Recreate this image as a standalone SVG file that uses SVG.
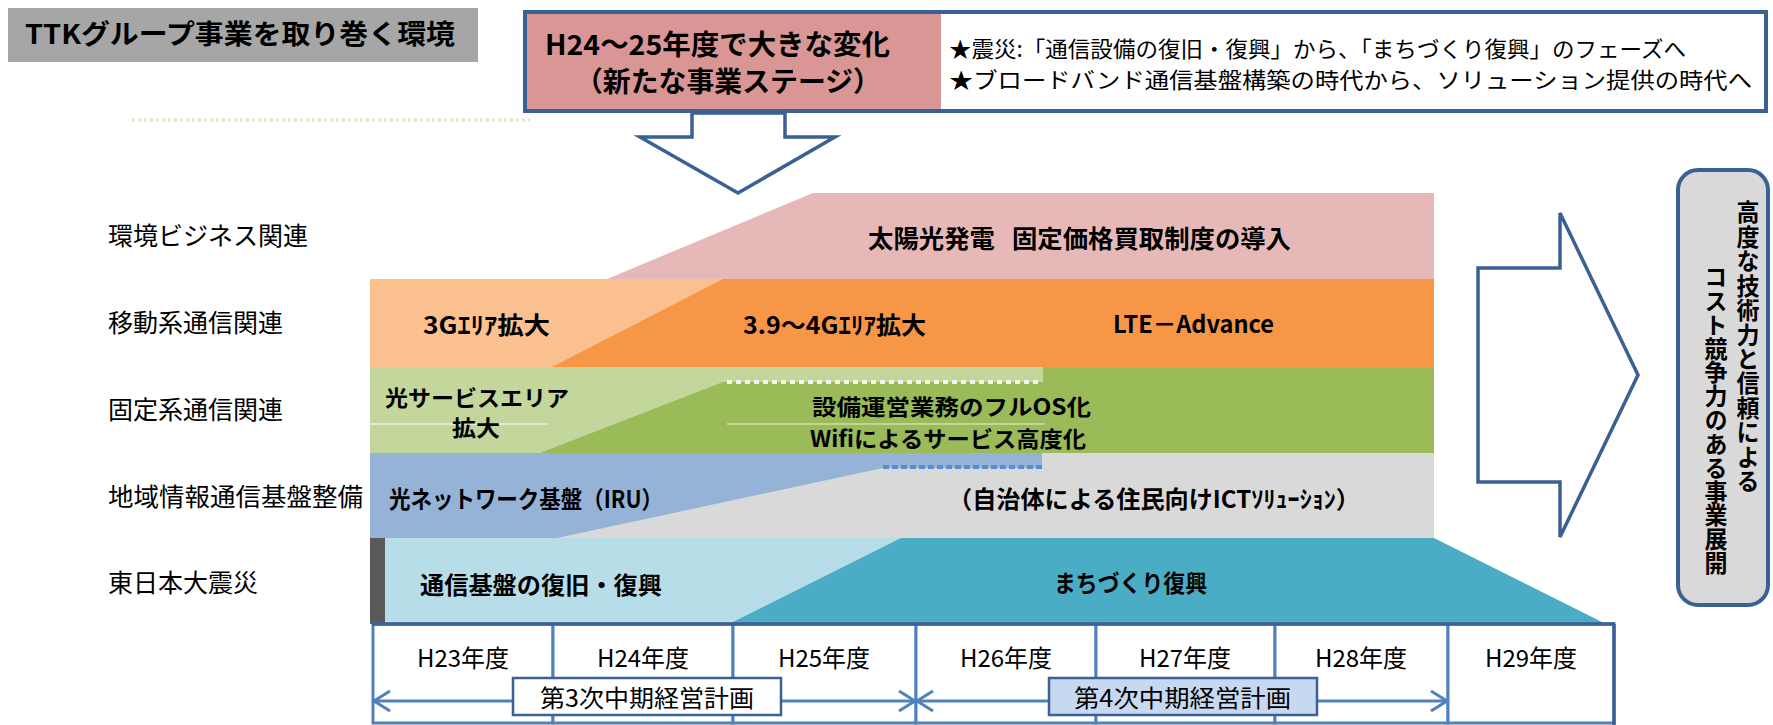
<svg xmlns="http://www.w3.org/2000/svg" width="1773" height="725" viewBox="0 0 1773 725">
<defs>
<style>
text{font-family:"Noto Sans CJK JP","Liberation Sans",sans-serif;fill:#000}
.lbl{font-size:25px}
.b{font-size:24px;font-weight:bold}
.b2{font-size:22px;font-weight:bold}
.yr{font-size:24px;text-anchor:middle}
.cell{fill:#fff;stroke:#4f81bd;stroke-width:3}
.conn{fill:#fff;stroke:#3b6093;stroke-width:3.5;stroke-linejoin:miter}
.tl{stroke:#4f81bd;stroke-width:3;fill:none}
</style>
</defs>
<rect width="1773" height="725" fill="#fff"/>

<g id="title">
<rect x="8" y="8" width="470" height="54" fill="#a6a6a6"/>
<text x="25" y="44" style="font-size:27px;font-weight:bold" textLength="430" lengthAdjust="spacingAndGlyphs">TTKグループ事業を取り巻く環境</text>
</g>
<line x1="132" y1="120" x2="530" y2="120" stroke="#e8e4cc" stroke-width="3" stroke-dasharray="3 3"/>

<g id="header">
<rect x="525" y="12" width="1241" height="99" fill="#fff" stroke="#3b6093" stroke-width="4"/>
<rect x="527" y="14" width="414" height="95" fill="#d99694"/>
<text x="545" y="55" style="font-size:28px;font-weight:bold" textLength="345" lengthAdjust="spacingAndGlyphs">H24～25年度で大きな変化</text>
<text x="575" y="92" style="font-size:28px;font-weight:bold" textLength="306" lengthAdjust="spacingAndGlyphs">（新たな事業ステージ）</text>
<text x="949" y="57" style="font-size:22px" textLength="737" lengthAdjust="spacingAndGlyphs">★震災:「通信設備の復旧・復興」から、「まちづくり復興」のフェーズへ</text>
<text x="949" y="88" style="font-size:22px" textLength="803" lengthAdjust="spacingAndGlyphs">★ブロードバンド通信基盤構築の時代から、ソリューション提供の時代へ</text>
</g>

<g id="row-labels">
<text class="lbl" x="108" y="245">環境ビジネス関連</text>
<text class="lbl" x="108" y="332">移動系通信関連</text>
<text class="lbl" x="108" y="419">固定系通信関連</text>
<text class="lbl" x="108" y="506" textLength="255" lengthAdjust="spacingAndGlyphs">地域情報通信基盤整備</text>
<text class="lbl" x="108" y="592">東日本大震災</text>
</g>

<g id="band-environment">
<polygon points="607,279 813,193 1434,193 1434,279" fill="#e6b9b8"/>
<text x="868" y="248" style="font-size:25px;font-weight:bold" textLength="127" lengthAdjust="spacingAndGlyphs">太陽光発電</text>
<text x="1012" y="248" style="font-size:25px;font-weight:bold" textLength="279" lengthAdjust="spacingAndGlyphs">固定価格買取制度の導入</text>
</g>

<g id="band-mobile">
<rect x="370" y="279" width="1064" height="88" fill="#fac090"/>
<polygon points="552,367 723,279 1434,279 1434,367" fill="#f79646"/>
<text class="b" x="423" y="334" textLength="127" lengthAdjust="spacingAndGlyphs">3Gｴﾘｱ拡大</text>
<text class="b" x="743" y="334" textLength="183" lengthAdjust="spacingAndGlyphs">3.9～4Gｴﾘｱ拡大</text>
<text class="b" x="1113" y="333" textLength="161" lengthAdjust="spacingAndGlyphs">LTE－Advance</text>
</g>

<g id="band-fixed">
<rect x="370" y="367" width="1064" height="86" fill="#c3d69b"/>
<polygon points="540,453 723,382 1043,382 1043,367 1434,367 1434,453" fill="#9bbb59"/>
<line x1="727" y1="382" x2="1040" y2="382" stroke="#f4f4f0" stroke-width="4" stroke-dasharray="5 4"/>
<line x1="370" y1="424" x2="547" y2="424" stroke="#fff" stroke-width="1"/>
<line x1="727" y1="424" x2="1045" y2="424" stroke="#e8eedc" stroke-width="1"/>
<text class="b2" x="385" y="406" textLength="184" lengthAdjust="spacingAndGlyphs">光サービスエリア</text>
<text class="b2" x="452" y="436" textLength="48" lengthAdjust="spacingAndGlyphs">拡大</text>
<text class="b2" x="812" y="415" textLength="279" lengthAdjust="spacingAndGlyphs">設備運営業務のフルOS化</text>
<text class="b2" x="810" y="447" textLength="276" lengthAdjust="spacingAndGlyphs">Wifiによるサービス高度化</text>
</g>

<g id="band-regional">
<rect x="370" y="453" width="1064" height="85" fill="#95b3d7"/>
<polygon points="557,538 883,468 1042,468 1042,453 1434,453 1434,538" fill="#d9d9d9"/>
<line x1="883" y1="467" x2="1042" y2="467" stroke="#558ed5" stroke-width="4" stroke-dasharray="6 3"/>
<text class="b" x="389" y="508" textLength="274" lengthAdjust="spacingAndGlyphs">光ネットワーク基盤（IRU）</text>
<text class="b" x="948" y="508" textLength="412" lengthAdjust="spacingAndGlyphs">（自治体による住民向けICTｿﾘｭｰｼｮﾝ）</text>
</g>

<g id="band-disaster">
<rect x="370" y="538" width="1064" height="86" fill="#b7dee8"/>
<polygon points="729,624 901,538 1434,538 1606,624" fill="#4bacc6"/>
<rect x="370" y="538" width="15" height="86" fill="#595959"/>
<text class="b" x="420" y="594" textLength="242" lengthAdjust="spacingAndGlyphs">通信基盤の復旧・復興</text>
<text class="b" x="1054" y="592" textLength="153" lengthAdjust="spacingAndGlyphs">まちづくり復興</text>
</g>

<g id="timeline">
<rect class="cell" x="373" y="624" width="180" height="99"/>
<rect class="cell" x="553" y="624" width="180" height="99"/>
<rect class="cell" x="733" y="624" width="183" height="99"/>
<rect class="cell" x="916" y="624" width="180" height="99"/>
<rect class="cell" x="1096" y="624" width="179" height="99"/>
<rect class="cell" x="1275" y="624" width="173" height="99"/>
<rect class="cell" x="1448" y="624" width="166" height="99"/>
<line x1="372" y1="624" x2="1615" y2="624" stroke="#3b6093" stroke-width="3.5"/>
<line x1="1614" y1="624" x2="1614" y2="725" stroke="#3b6093" stroke-width="3.5"/>
<text class="yr" x="463" y="667">H23年度</text>
<text class="yr" x="643" y="667">H24年度</text>
<text class="yr" x="824" y="667">H25年度</text>
<text class="yr" x="1006" y="667">H26年度</text>
<text class="yr" x="1185" y="667">H27年度</text>
<text class="yr" x="1361" y="667">H28年度</text>
<text class="yr" x="1531" y="667">H29年度</text>
</g>

<g id="connectors">
<polygon class="conn" points="692,113 692,137 640,137 738,193 835,137 785,137 785,113"/>
<polygon class="conn" points="1478,268 1560,268 1560,213 1638,375 1560,537 1560,482 1478,482"/>
<line class="tl" x1="374" y1="701" x2="914" y2="701"/>
<polyline class="tl" points="390,691 374,701 390,711"/>
<polyline class="tl" points="899,691 915,701 899,711"/>
<line class="tl" x1="918" y1="701" x2="1446" y2="701"/>
<polyline class="tl" points="933,691 917,701 933,711"/>
<polyline class="tl" points="1431,691 1447,701 1431,711"/>
</g>

<g id="plan3">
<rect x="513" y="678" width="268" height="37" fill="#fff" stroke="#3b6093" stroke-width="2.5"/>
<text x="540" y="707" style="font-size:24px" textLength="214" lengthAdjust="spacingAndGlyphs">第3次中期経営計画</text>
</g>
<g id="plan4">
<rect x="1049" y="678" width="268" height="37" fill="#c6d9f1" stroke="#3b6093" stroke-width="2.5"/>
<text x="1074" y="707" style="font-size:24px" textLength="217" lengthAdjust="spacingAndGlyphs">第4次中期経営計画</text>
</g>

<g id="result">
<rect x="1678" y="170" width="90" height="435" rx="20" ry="20" fill="#d9d9d9" stroke="#3b6093" stroke-width="4"/>
<text x="1748" y="200" style="font-size:23px;font-weight:bold;writing-mode:vertical-rl" textLength="293" lengthAdjust="spacingAndGlyphs">高度な技術力と信頼による</text>
<text x="1716" y="265" style="font-size:23px;font-weight:bold;writing-mode:vertical-rl" textLength="310" lengthAdjust="spacingAndGlyphs">コスト競争力のある事業展開</text>
</g>
</svg>
